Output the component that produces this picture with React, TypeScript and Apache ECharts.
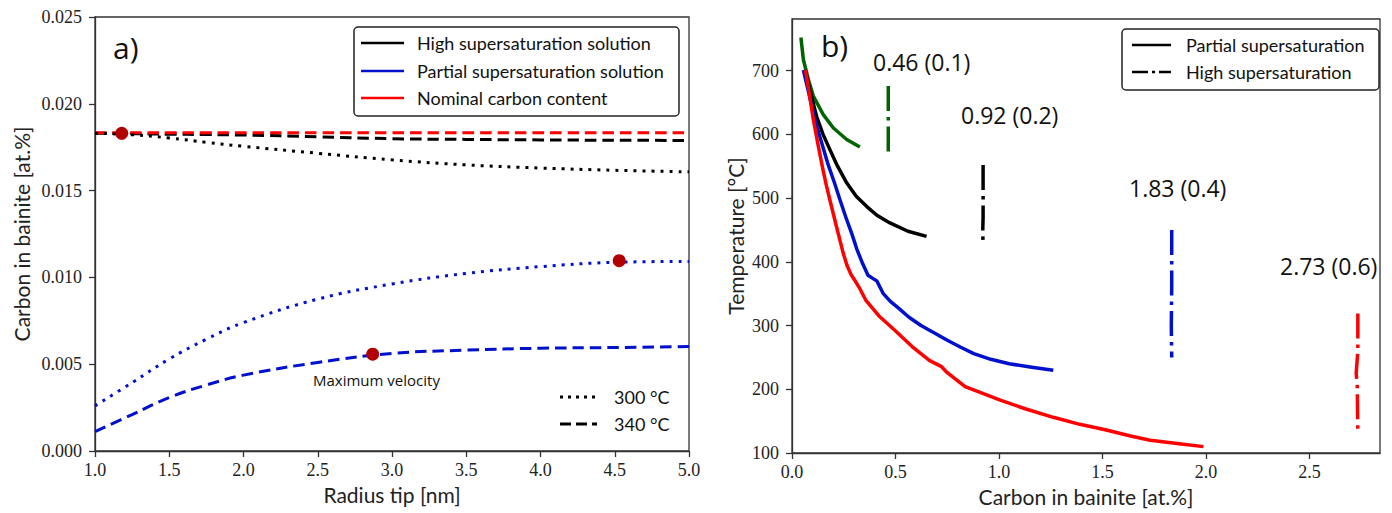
import React, { useEffect, useRef } from "react";
import * as echarts from "echarts";

// ---------- Panel a) ----------
const radiusTip = [1.0, 1.25, 1.5, 1.75, 2.0, 2.5, 3.0, 3.5, 4.0, 4.5, 5.0];
const nominal340 = [0.01833, 0.01833, 0.01833, 0.01833, 0.01833, 0.01833, 0.01833, 0.01833, 0.01833, 0.01833, 0.01833];
const high340 = [0.01831, 0.01828, 0.01825, 0.01823, 0.0182, 0.0181, 0.01799, 0.01795, 0.01792, 0.0179, 0.01789];
const high300 = [0.0183, 0.01822, 0.01803, 0.01778, 0.01755, 0.01715, 0.01677, 0.01648, 0.0163, 0.01617, 0.01608];
const partial300 = [0.0026, 0.00394, 0.0053, 0.00644, 0.0074, 0.00875, 0.00962, 0.01023, 0.01062, 0.01087, 0.01092];
const partial340 = [0.00112, 0.0021, 0.00308, 0.0038, 0.00437, 0.0051, 0.00562, 0.00581, 0.00592, 0.00596, 0.00602];
const maxVelRadius = [1.18, 4.53, 2.87];
const maxVelCarbon = [0.0183, 0.01096, 0.00558];
const yTicksA = [0, 0.005, 0.01, 0.015, 0.02, 0.025];

// ---------- Panel b) ----------
const c046PartialC = [0.043, 0.055, 0.079, 0.103, 0.151, 0.2, 0.264, 0.328];
const c046PartialT = [752, 717, 686, 660, 631, 610, 592, 580];
const c046HighC = [0.465, 0.465];
const c046HighT = [676, 570];

const c092PartialC = [0.065, 0.087, 0.119, 0.15, 0.183, 0.22, 0.264, 0.31, 0.36, 0.41, 0.473, 0.56, 0.65];
const c092PartialT = [700, 668, 628, 600, 576, 550, 524, 503, 487, 473, 461, 448, 440];
const c092HighC = [0.923, 0.923, 0.921, 0.923];
const c092HighT = [552, 470, 445, 430];

const c183PartialC = [0.055, 0.07, 0.09, 0.119, 0.145, 0.175, 0.205, 0.232, 0.26, 0.29, 0.313, 0.34, 0.367, 0.39, 0.41, 0.441, 0.475, 0.516, 0.565, 0.623, 0.69, 0.75, 0.815, 0.878, 0.96, 1.049, 1.15, 1.262];
const c183PartialT = [701, 680, 652, 613, 585, 552, 524, 497, 470, 443, 420, 398, 379, 374, 370, 350, 338, 327, 313, 300, 288, 277, 266, 256, 247, 240, 235, 230];
const c183HighC = [1.834, 1.834, 1.832, 1.834];
const c183HighT = [450, 360, 300, 250];

const c273PartialC = [0.065, 0.083, 0.103, 0.128, 0.15, 0.166, 0.183, 0.215, 0.247, 0.265, 0.285, 0.303, 0.324, 0.356, 0.42, 0.495, 0.58, 0.665, 0.72, 0.75, 0.836, 1.006, 1.13, 1.262, 1.39, 1.518, 1.63, 1.73, 1.86, 1.987];
const c273PartialT = [701, 665, 623, 580, 544, 520, 497, 455, 414, 395, 380, 371, 360, 340, 315, 293, 267, 245, 236, 226, 204, 183, 169, 156, 145, 136, 127, 120, 115, 110];
const c273HighC = [2.733, 2.733, 2.725, 2.73, 2.733];
const c273HighT = [319, 260, 225, 205, 131];

const xTicksB = [0, 0.5, 1.0, 1.5, 2.0, 2.5];
const yTicksB = [100, 200, 300, 400, 500, 600, 700];

const annotationsB = [
  { text: "0.46 (0.1)", x: 873, y: 62 },
  { text: "0.92 (0.2)", x: 961, y: 115 },
  { text: "1.83 (0.4)", x: 1129, y: 188 },
  { text: "2.73 (0.6)", x: 1280, y: 266 },
];

const zip = (xs: number[], ys: number[]) => xs.map((x, i) => [x, ys[i]]);

const AX = "#333";
const SERIF = "Liberation Serif";
const SANS = "Lato";
const CALIBRI = "Open Sans";
const BLUE = "#0010cc";
const RED = "#ff0000";
const GREEN = "#006400";
const DOT = [3, 6];
const DASH = [11.5, 6];
const DASHDOT = [25, 6, 3.5, 6];

function axisCommon() {
  return {
    axisLine: { show: true, onZero: false, lineStyle: { color: AX, width: 1.3 } },
    axisTick: { show: true, length: 6, lineStyle: { color: AX, width: 1.3 } },
    splitLine: { show: false },
    nameTextStyle: { fontFamily: SANS, fontSize: 21, color: "#222" },
  };
}

function txt(text: string, x: number, y: number, font: string, align = "left") {
  return {
    type: "text",
    x,
    y,
    silent: true,
    z: 100,
    style: {
      text,
      font,
      fill: "#111",
      textAlign: align,
      textVerticalAlign: "middle",
      align,
      verticalAlign: "middle",
    },
  };
}

function ln(x1: number, x2: number, y: number, stroke: string, dash?: number[], w = 2.5) {
  return {
    type: "line",
    silent: true,
    z: 100,
    shape: { x1, y1: y, x2, y2: y },
    style: { stroke, lineWidth: w, lineDash: dash || null },
  };
}

export default function App() {
  const ref = useRef<HTMLDivElement>(null);
  useEffect(() => {
    const chart = echarts.init(ref.current!, null, { renderer: "svg" });
    const lineA = (name: string, ys: number[], color: string, dash: number[], w = 3) => ({
      name,
      type: "line",
      xAxisIndex: 0,
      yAxisIndex: 0,
      data: zip(radiusTip, ys),
      showSymbol: false,
      smooth: 0.4,
      silent: true,
      lineStyle: { color, width: w, type: dash },
    });
    const lineB = (name: string, xs: number[], ys: number[], color: string, dash: number[] | "solid", w = 3.5) => ({
      name,
      type: "line",
      xAxisIndex: 1,
      yAxisIndex: 1,
      data: zip(xs, ys),
      showSymbol: false,
      smooth: false,
      silent: true,
      lineStyle: { color, width: w, type: dash, join: "round" },
    });

    chart.setOption({
      animation: false,
      backgroundColor: "#fff",
      grid: [
        { left: 95, top: 17, width: 594, height: 434, show: true, borderColor: AX, borderWidth: 1.3, backgroundColor: "transparent" },
        { left: 792, top: 19, width: 588, height: 434, show: true, borderColor: AX, borderWidth: 1.3, backgroundColor: "transparent" },
      ],
      xAxis: [
        {
          ...axisCommon(),
          type: "value",
          gridIndex: 0,
          min: 1,
          max: 5,
          interval: 0.5,
          name: "Radius tip [nm]",
          nameLocation: "middle",
          nameGap: 31,
          axisLabel: { margin: 10, fontFamily: SERIF, fontSize: 18, color: "#222", formatter: (v: number) => v.toFixed(1) },
        },
        {
          ...axisCommon(),
          type: "value",
          gridIndex: 1,
          min: 0,
          max: 2.84,
          interval: 0.5,
          name: "Carbon in bainite [at.%]",
          nameLocation: "middle",
          nameGap: 32,
          axisTick: { show: true, length: 6, lineStyle: { color: AX, width: 1.3 }, customValues: xTicksB },
          axisLabel: { margin: 10, fontFamily: SERIF, fontSize: 18, color: "#222", customValues: xTicksB, formatter: (v: number) => v.toFixed(1) },
        },
      ],
      yAxis: [
        {
          ...axisCommon(),
          type: "value",
          gridIndex: 0,
          min: 0,
          max: 0.025,
          interval: 0.005,
          name: "Carbon in bainite [at.%]",
          nameLocation: "middle",
          nameGap: 63,
          axisTick: { show: true, length: 6, lineStyle: { color: AX, width: 1.3 }, customValues: yTicksA },
          axisLabel: { margin: 13, fontFamily: SERIF, fontSize: 18, color: "#222", customValues: yTicksA, formatter: (v: number) => v.toFixed(3) },
        },
        {
          ...axisCommon(),
          type: "value",
          gridIndex: 1,
          min: 100,
          max: 781,
          interval: 100,
          name: "Temperature [°C]",
          nameLocation: "middle",
          nameGap: 46,
          axisTick: { show: true, length: 6, lineStyle: { color: AX, width: 1.3 }, customValues: yTicksB },
          axisLabel: { margin: 13, fontFamily: SERIF, fontSize: 18, color: "#222", customValues: yTicksB, formatter: (v: number) => String(v) },
        },
      ],
      series: [
        lineA("High supersaturation 340 °C", high340, "#000", DASH),
        lineA("Nominal carbon content", nominal340, RED, DASH),
        lineA("High supersaturation 300 °C", high300, "#000", DOT),
        lineA("Partial supersaturation 300 °C", partial300, BLUE, DOT),
        lineA("Partial supersaturation 340 °C", partial340, BLUE, DASH),
        {
          name: "Maximum velocity",
          type: "scatter",
          xAxisIndex: 0,
          yAxisIndex: 0,
          data: zip(maxVelRadius, maxVelCarbon),
          symbolSize: 13,
          silent: true,
          z: 5,
          itemStyle: { color: "#b00000", opacity: 1 },
        },
        lineB("0.46 partial", c046PartialC, c046PartialT, GREEN, "solid"),
        lineB("0.46 high", c046HighC, c046HighT, GREEN, DASHDOT),
        lineB("0.92 partial", c092PartialC, c092PartialT, "#000", "solid"),
        lineB("0.92 high", c092HighC, c092HighT, "#000", DASHDOT),
        lineB("1.83 partial", c183PartialC, c183PartialT, BLUE, "solid"),
        lineB("1.83 high", c183HighC, c183HighT, BLUE, DASHDOT),
        lineB("2.73 partial", c273PartialC, c273PartialT, RED, "solid"),
        lineB("2.73 high", c273HighC, c273HighT, RED, DASHDOT),
      ],
      graphic: [
        // panel a) labels
        txt("a)", 113, 47, `30px '${CALIBRI}'`),
        txt("Maximum velocity", 313, 380, `15px '${CALIBRI}'`),
        // panel a) main legend
        {
          type: "rect",
          silent: true,
          z: 99,
          shape: { x: 354, y: 27, width: 325, height: 89, r: 4 },
          style: { fill: "#fff", stroke: "#222", lineWidth: 1.5 },
        },
        ln(361, 404, 43, "#000"),
        ln(361, 404, 71, BLUE),
        ln(361, 404, 98, RED),
        txt("High supersaturation solution", 417, 43, `18px '${SANS}'`),
        txt("Partial supersaturation solution", 417, 71, `18px '${SANS}'`),
        txt("Nominal carbon content", 417, 98, `18px '${SANS}'`),
        // panel a) temperature legend
        ln(560, 597, 397, "#000", [3, 5], 3),
        ln(560, 597, 424, "#000", [11, 5], 3),
        txt("300 °C", 614, 397, `18px '${SANS}'`),
        txt("340 °C", 614, 424, `18px '${SANS}'`),
        // panel b) labels
        txt("b)", 821, 45, `30px '${CALIBRI}'`),
        ...annotationsB.map((a) => txt(a.text, a.x, a.y, `23px '${CALIBRI}'`)),
        // panel b) legend
        {
          type: "rect",
          silent: true,
          z: 99,
          shape: { x: 1122, y: 29, width: 257, height: 61, r: 4 },
          style: { fill: "#fff", stroke: "#222", lineWidth: 1.5 },
        },
        ln(1132, 1171, 45, "#000"),
        ln(1132, 1171, 72, "#000", [16, 4, 3, 4]),
        txt("Partial supersaturation", 1186, 45, `18px '${SANS}'`),
        txt("High supersaturation", 1186, 72, `18px '${SANS}'`),
      ],
    });
    return () => chart.dispose();
  }, []);
  return (
    <div
      ref={ref}
      style={{ position: "absolute", left: 0, top: 0, width: 1392, height: 513, background: "#fff" }}
    />
  );
}
